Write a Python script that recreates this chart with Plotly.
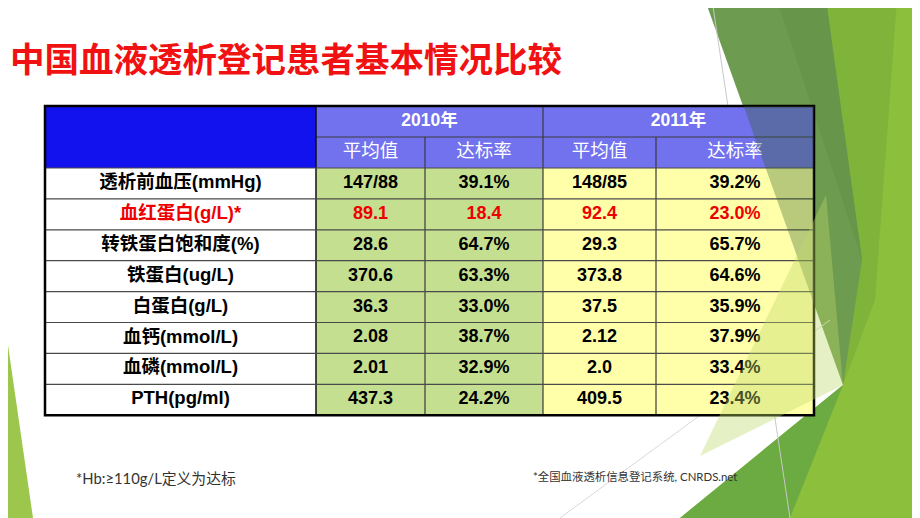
import plotly.graph_objects as go

# ---- table data ----
years = ["2010年", "2011年"]
sub_headers = ["平均值", "达标率"]
items = [
    "透析前血压(mmHg)",
    "血红蛋白(g/L)*",
    "转铁蛋白饱和度(%)",
    "铁蛋白(ug/L)",
    "白蛋白(g/L)",
    "血钙(mmol/L)",
    "血磷(mmol/L)",
    "PTH(pg/ml)",
]
mean_2010 = ["147/88", "89.1", "28.6", "370.6", "36.3", "2.08", "2.01", "437.3"]
rate_2010 = ["39.1%", "18.4", "64.7%", "63.3%", "33.0%", "38.7%", "32.9%", "24.2%"]
mean_2011 = ["148/85", "92.4", "29.3", "373.8", "37.5", "2.12", "2.0", "409.5"]
rate_2011 = ["39.2%", "23.0%", "65.7%", "64.6%", "35.9%", "37.9%", "33.4%", "23.4%"]
highlight_item = "血红蛋白(g/L)*"

TITLE = "中国血液透析登记患者基本情况比较"
NOTE_LEFT = "*Hb:≥110g/L定义为达标"
NOTE_RIGHT = "*全国血液透析信息登记系统, CNRDS.net"

# ---- layout of the table on the 920x518 slide (pixel space) ----
W, H = 920, 518
PAGE_PAD = 8  # the html body margin; the figure starts 8px in
LEFT, TOP = 45, 106
COL_W = [271, 109, 118, 113, 158]
HEAD_H = 31
ROW_H = 30.9

x_edges = [LEFT]
for w in COL_W:
    x_edges.append(x_edges[-1] + w)
y_edges = [TOP, TOP + HEAD_H, TOP + 2 * HEAD_H]
for _ in items:
    y_edges.append(y_edges[-1] + ROW_H)
x_mid = [(a + b) / 2 for a, b in zip(x_edges[:-1], x_edges[1:])]
y_mid = [(a + b) / 2 for a, b in zip(y_edges[:-1], y_edges[1:])]
RIGHT, BOTTOM = x_edges[-1], y_edges[-1]

BLUE, LAVENDER, WHITE, GREEN, YELLOW = "#1212ee", "#7272ee", "#ffffff", "#c5df90", "#ffffaa"
fills = [BLUE, LAVENDER, WHITE, GREEN, YELLOW]
z = [[0, 1, 1, 1, 1], [0, 1, 1, 1, 1]] + [[2, 3, 3, 4, 4] for _ in items]
n = len(fills)
colorscale = []
for i, c in enumerate(fills):
    colorscale += [[max(0, (i - 0.5) / (n - 1)), c], [min(1, (i + 0.5) / (n - 1)), c]]

fig = go.Figure()
fig.add_trace(go.Heatmap(
    x=x_edges, y=y_edges, z=z, zmin=0, zmax=n - 1,
    colorscale=colorscale, showscale=False, hoverinfo="skip", zsmooth=False,
))

BODY_FONT = "Liberation Sans, Arial, Noto Sans CJK SC"
RED = "#ee0000"

# header texts
fig.add_trace(go.Scatter(
    x=[(x_edges[1] + x_edges[3]) / 2, (x_edges[3] + x_edges[5]) / 2],
    y=[y_mid[0]] * 2, text=years, mode="text",
    textfont=dict(family=BODY_FONT, size=17.5, color="white", weight="bold"),
    hoverinfo="skip",
))
fig.add_trace(go.Scatter(
    x=x_mid[1:], y=[y_mid[1]] * 4, text=sub_headers * 2, mode="text",
    textfont=dict(family="Noto Sans CJK SC", size=18.5, color="white"),
    hoverinfo="skip",
))

# body texts, one column at a time
row_colors = [RED if it == highlight_item else "#000000" for it in items]
for ci, col in enumerate([items, mean_2010, rate_2010, mean_2011, rate_2011]):
    fig.add_trace(go.Scatter(
        x=[x_mid[ci]] * len(col), y=y_mid[2:], text=col, mode="text",
        textfont=dict(family=BODY_FONT, size=18.5 if ci == 0 else 18, color=row_colors,
                      weight="bold"),
        hoverinfo="skip",
    ))

shapes = []

# slide decoration (Facet-like green facets), beneath the table
def poly(pts, color, opacity=1.0, layer="below"):
    path = "M " + " L ".join(f"{x},{y}" for x, y in pts) + " Z"
    return dict(type="path", path=path, xref="x", yref="y", fillcolor=color,
                line=dict(width=0), opacity=opacity, layer=layer)

shapes += [
    poly([(0, 290), (0, H), (33, H)], "#9cc64c"),
    poly([(826, 0), (W, 0), (W, H), (680, H), (843, 385)], "#8cbf3c"),
    poly([(826, 0), (897, 0), (875, 300), (843, 385)], "#80b33a"),
    poly([(705, 0), (826, 0), (862, 260), (843, 385)], "#6d9b50"),
    poly([(777, 0), (826, 0), (862, 260)], "#67964b"),
    poly([(680, H), (790, H), (843, 385)], "#6cab42"),
    dict(type="line", x0=712, y0=0, x1=790, y1=518, xref="x", yref="y",
         line=dict(color="#c8c8c8", width=1), layer="below"),
    dict(type="line", x0=560, y0=518, x1=830, y1=320, xref="x", yref="y",
         line=dict(color="#d8d8d8", width=1), layer="below"),
]

# table grid
GRID = "#3a3a3a"
def seg(x0, y0, x1, y1, color=GRID, width=1.2):
    return dict(type="line", x0=x0, y0=y0, x1=x1, y1=y1, xref="x", yref="y",
                line=dict(color=color, width=width), layer="above")

shapes.append(seg(x_edges[1], y_edges[1], RIGHT, y_edges[1]))
shapes.append(seg(x_edges[3], TOP, x_edges[3], BOTTOM))
for xe in (x_edges[2], x_edges[4]):
    shapes.append(seg(xe, y_edges[1], xe, BOTTOM))
shapes.append(seg(x_edges[1], TOP, x_edges[1], BOTTOM, "#111111", 1.5))
for ye in y_edges[2:-1]:
    shapes.append(seg(LEFT, ye, RIGHT, ye, "#4a4a4a", 1.2))
shapes.append(dict(type="rect", x0=LEFT, y0=TOP, x1=RIGHT, y1=BOTTOM, xref="x", yref="y",
                   line=dict(color="#000000", width=2.5), layer="above"))

# translucent facets lying over the right edge of the table
shapes += [
    poly([(743.6, TOP), (RIGHT, TOP), (RIGHT, 304)], "#2e5e22", opacity=0.33, layer="above"),
    poly([(700, 456), (826, 195), (843, 385)], "#bcd766", opacity=0.38, layer="above"),
]

annotations = [
    dict(text=TITLE, x=8, y=57, xref="x", yref="y", xanchor="left", yanchor="middle",
         showarrow=False, font=dict(family="Noto Sans CJK SC", size=34.5, color="#f01212",
                                    weight="bold")),
    dict(text=NOTE_LEFT, x=74, y=478, xref="x", yref="y", xanchor="left", yanchor="middle",
         showarrow=False, font=dict(family="Lato, Noto Sans CJK SC", size=14.8, color="#333333")),
    dict(text=NOTE_RIGHT, x=531, y=476, xref="x", yref="y", xanchor="left", yanchor="middle",
         showarrow=False, font=dict(family="Lato, Noto Sans CJK SC", size=11.4, color="#333333")),
]

fig.update_layout(
    width=W - PAGE_PAD, height=H - PAGE_PAD, margin=dict(l=0, r=0, t=0, b=0),
    paper_bgcolor="white", plot_bgcolor="white", showlegend=False,
    xaxis=dict(range=[PAGE_PAD, W], visible=False, fixedrange=True),
    yaxis=dict(range=[H, PAGE_PAD], visible=False, fixedrange=True),
    shapes=shapes, annotations=annotations,
)

fig.write_html("out.html", config={"displayModeBar": False})
